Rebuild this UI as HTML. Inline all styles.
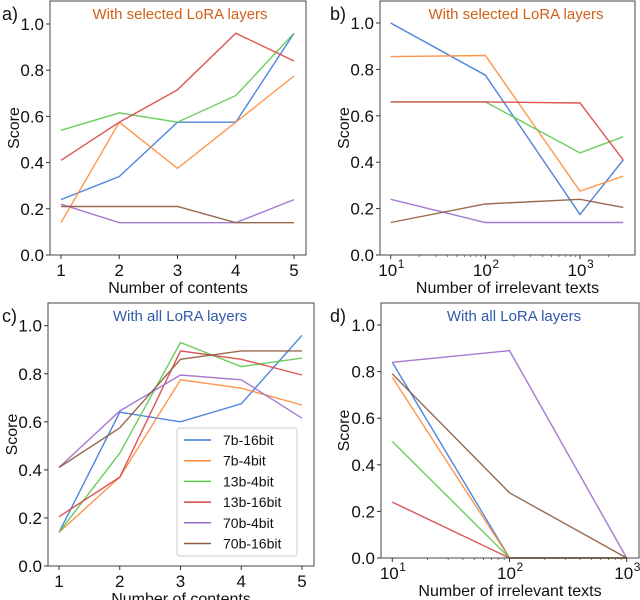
<!DOCTYPE html>
<html><head><meta charset="utf-8">
<style>
html,body{margin:0;padding:0;background:#fff;}
svg{display:block;font-family:"Liberation Sans","DejaVu Sans",sans-serif;}
</style></head>
<body>
<svg id="fig" width="640" height="600" viewBox="0 0 640 600"></svg>
<script>
const seriesNames = ["7b-16bit","7b-4bit","13b-4bit","13b-16bit","70b-4bit","70b-16bit"];
const seriesColors = ["#3a78d8","#ff8a3a","#5cc84c","#d84444","#9a6ccc","#8c5a3c"];
const yTicks = [0,0.2,0.4,0.6,0.8,1.0];
const yTickLabels = ["0.0","0.2","0.4","0.6","0.8","1.0"];
const contentCats = [1,2,3,4,5];
const textCatsB = [10,100,1000,2860];
const textCatsD = [10,100,1000];
const aBlue=[0.24,0.34,0.575,0.575,0.96];
const aOrange=[0.14,0.575,0.375,0.575,0.775];
const aGreen=[0.54,0.615,0.575,0.69,0.96];
const aRed=[0.41,0.575,0.715,0.96,0.84];
const aPurple=[0.22,0.14,0.14,0.14,0.24];
const aBrown=[0.21,0.21,0.21,0.14,0.14];
const bBlue=[1.0,0.775,0.175,0.41];
const bOrange=[0.855,0.86,0.275,0.34];
const bGreen=[0.66,0.66,0.44,0.51];
const bRed=[0.66,0.66,0.655,0.41];
const bPurple=[0.24,0.14,0.14,0.14];
const bBrown=[0.14,0.22,0.24,0.205];
const cBlue=[0.14,0.64,0.60,0.675,0.96];
const cOrange=[0.14,0.37,0.775,0.74,0.67];
const cGreen=[0.14,0.47,0.93,0.83,0.865];
const cRed=[0.205,0.37,0.895,0.86,0.795];
const cPurple=[0.41,0.645,0.795,0.775,0.615];
const cBrown=[0.41,0.575,0.86,0.895,0.895];
const dBlue=[0.84,0,0];
const dOrange=[0.775,0,0];
const dGreen=[0.50,0,0];
const dRed=[0.24,0,0];
const dPurple=[0.84,0.89,0];
const dBrown=[0.79,0.28,0];

const NS="http://www.w3.org/2000/svg";
const svg=document.getElementById('fig');
function mk(tag,attrs,parent){const e=document.createElementNS(NS,tag);for(const k in attrs)e.setAttribute(k,attrs[k]);(parent||svg).appendChild(e);return e;}
function txt(s,attrs,parent){const e=mk('text',attrs,parent);e.textContent=s;return e;}

const panels=[
 {id:'a',box:[50,1,306,255],y0:255,y1:24,log:false,x0v:1,x1v:5,x0:61,x1:294,cats:contentCats,
  data:[aBlue,aOrange,aGreen,aRed,aPurple,aBrown],title:"With selected LoRA layers",tcol:"#d2601a",tx:180,
  xlabel:"Number of contents",xticks:[1,2,3,4,5],lab:[2,20],ylx:14},
 {id:'b',box:[380,1,635,255],y0:255,y1:23,log:true,x0v:1,x1v:3,x0:390.7,x1:580,cats:textCatsB,
  data:[bBlue,bOrange,bGreen,bRed,bPurple,bBrown],title:"With selected LoRA layers",tcol:"#d2601a",tx:516,
  xlabel:"Number of irrelevant texts",xticks:[1,2,3],lab:[330,20],ylx:344,minorMax:3.46},
 {id:'c',box:[48,303,314,566],y0:566,y1:325.7,log:false,x0v:1,x1v:5,x0:59,x1:302,cats:contentCats,
  data:[cBlue,cOrange,cGreen,cRed,cPurple,cBrown],title:"With all LoRA layers",tcol:"#2f5aa8",tx:180,
  xlabel:"Number of contents",xticks:[1,2,3,4,5],lab:[2,322],ylx:12,legend:true},
 {id:'d',box:[381,303,639,558],y0:558,y1:325,log:true,x0v:1,x1v:3,x0:392.3,x1:626.7,cats:textCatsD,
  data:[dBlue,dOrange,dGreen,dRed,dPurple,dBrown],title:"With all LoRA layers",tcol:"#2f5aa8",tx:514,
  xlabel:"Number of irrelevant texts",xticks:[1,2,3],lab:[330,322],ylx:344,minorMax:3}
];

panels.forEach(p=>{
  const g=mk('g',{});
  
  
  const sx=v=>{const lv=p.log?Math.log10(v):v;return p.x0+(lv-p.x0v)/(p.x1v-p.x0v)*(p.x1-p.x0);};
  const sy=v=>p.y0+(p.y1-p.y0)*v;
  p.data.forEach((arr,si)=>{
    const pts=arr.map((v,i)=>sx(p.cats[i]).toFixed(1)+','+sy(v).toFixed(1)).join(' ');
    const l=mk('polyline',{points:pts,fill:'none',stroke:seriesColors[si],'stroke-width':1.4,'stroke-opacity':0.9},g);
    
    
  });
  const [L,T,R,B]=p.box;
  const fr=mk('rect',{x:L,y:T,width:R-L,height:B-T,fill:'none',stroke:'#444','stroke-width':1},g);
  
  
  const ya=mk('g',{},g);
  
  
  yTicks.forEach((t,i)=>{
    const y=sy(t);
    mk('line',{x1:L-4,x2:L,y1:y,y2:y,stroke:'#333'},ya);
    txt(yTickLabels[i],{x:L-6,y:y+6,'text-anchor':'end','font-size':17,fill:'#111'},ya);
  });
  const yt=txt('Score',{x:p.ylx,y:(T+B)/2,'font-size':16,'text-anchor':'middle',fill:'#111',transform:`rotate(-90 ${p.ylx} ${(T+B)/2})`,dy:5},g);
  
  
  const xa=mk('g',{},g);
  
  
  p.xticks.forEach(t=>{
    const x=p.log?p.x0+(t-p.x0v)/(p.x1v-p.x0v)*(p.x1-p.x0):sx(t);
    mk('line',{x1:x,x2:x,y1:B,y2:B+4,stroke:'#333'},xa);
    if(p.log){
      txt('10',{x:x-3,y:B+21,'text-anchor':'middle','font-size':17,fill:'#111'},xa);
      txt(String(t),{x:x+7,y:B+13,'font-size':12,fill:'#111'},xa);
    } else txt(String(t),{x:x,y:B+21,'text-anchor':'middle','font-size':17,fill:'#111'},xa);
  });
  if(p.log){
    for(let d=1;d<4;d++)for(let m=2;m<10;m++){
      const lv=d+Math.log10(m); if(lv>p.minorMax)continue;
      const x=p.x0+(lv-p.x0v)/(p.x1v-p.x0v)*(p.x1-p.x0);
      mk('line',{x1:x,x2:x,y1:B,y2:B+2,stroke:'#555','stroke-width':0.8},xa);
    }
  }
  const xt=txt(p.xlabel,{x:(L+R)/2,y:B+38,'text-anchor':'middle','font-size':16,fill:'#111'},g);
  
  
  const ti=txt(p.title,{x:p.tx,y:T+18,'text-anchor':'middle','font-size':15,fill:p.tcol},g);
  
  
  const lb=txt(p.id+')',{x:p.lab[0],y:p.lab[1],'font-size':18,fill:'#111'},g);
  
  
  if(p.legend){
    const lg=mk('g',{},g);
    
    
    mk('rect',{x:177,y:428,width:120,height:128,rx:3,fill:'#fff','fill-opacity':0.85,stroke:'#ccc'},lg);
    seriesNames.forEach((n,i)=>{
      const y=440+i*20.7;
      const e=mk('g',{},lg);
      
      
      mk('line',{x1:184,x2:211,y1:y,y2:y,stroke:seriesColors[i],'stroke-width':1.5},e);
      txt(n,{x:223,y:y+5,'font-size':14,fill:'#111'},e);
    });
  }
});
</script>
</body></html>
